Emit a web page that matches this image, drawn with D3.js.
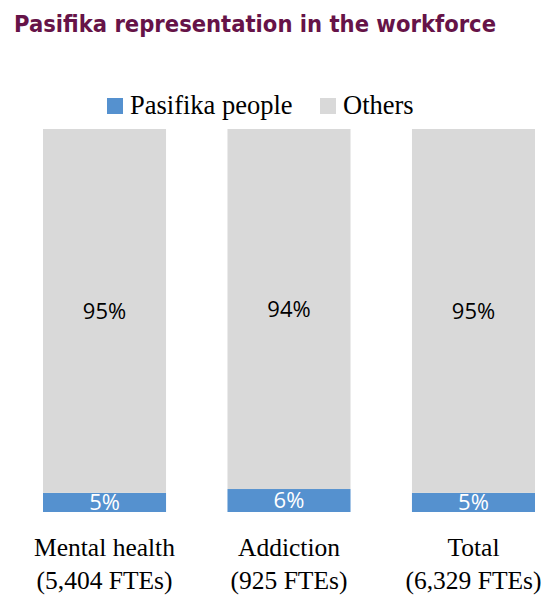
<!DOCTYPE html>
<html>
<head>
<meta charset="utf-8">
<script src="https://cdn.jsdelivr.net/npm/d3@7"></script>
<style>
  html, body { margin: 0; padding: 0; background: #fff; }
  svg { display: block; }
</style>
</head>
<body>
<svg id="chart" width="546" height="599"></svg>
<script>
// Workforce groups and their FTE counts
const categories = ["Mental health", "Addiction", "Total"];
const fteLabels = ["(5,404 FTEs)", "(925 FTEs)", "(6,329 FTEs)"];
// Share of FTEs (%)
const pasifika = [5, 6, 5];
const others = [95, 94, 95];
const seriesNames = ["Pasifika people", "Others"];
const seriesColors = ["#5591CF", "#D9D9D9"];

const svg = d3.select("#chart");

// Title
svg.append("text")
  .attr("x", 14).attr("y", 32)
  .attr("font-family", "'DejaVu Sans', Verdana, sans-serif")
  .attr("font-weight", "bold")
  .attr("font-size", 22.5)
  .attr("textLength", 482)
  .attr("lengthAdjust", "spacingAndGlyphs")
  .attr("fill", "#661348")
  .text("Pasifika representation in the workforce");

const x = d3.scaleBand()
  .domain(categories)
  .range([43, 535])
  .paddingInner(0.333)
  .paddingOuter(0);

const y = d3.scaleLinear()
  .domain([0, 100])
  .range([512, 129]);

const rows = categories.map((c, i) => ({ cat: c, "Pasifika people": pasifika[i], "Others": others[i] }));
const stacked = d3.stack().keys(seriesNames)(rows);

const g = svg.append("g");
stacked.forEach((layer, li) => {
  g.selectAll(null)
    .data(layer)
    .join("rect")
    .attr("x", d => x(d.data.cat))
    .attr("width", x.bandwidth())
    .attr("y", d => y(d[1]))
    .attr("height", d => y(d[0]) - y(d[1]))
    .attr("fill", seriesColors[li]);
});

// Value labels
stacked.forEach((layer, li) => {
  g.selectAll(null)
    .data(layer)
    .join("text")
    .attr("x", d => x(d.data.cat) + x.bandwidth() / 2)
    .attr("y", d => (y(d[0]) + y(d[1])) / 2)
    .attr("dy", "0.36em")
    .attr("text-anchor", "middle")
    .attr("font-family", "'Open Sans', 'Noto Sans', sans-serif")
    .attr("font-size", 22)
    .attr("fill", li === 0 ? "#ffffff" : "#000000")
    .text(d => (d[1] - d[0]) + "%");
});

// Category labels
const catG = svg.append("g")
  .attr("font-family", "'Liberation Serif', 'DejaVu Serif', serif")
  .attr("font-size", 25.5)
  .attr("fill", "#000");
categories.forEach((c, i) => {
  const cx = x(c) + x.bandwidth() / 2;
  catG.append("text").attr("x", cx).attr("y", 556).attr("text-anchor", "middle").text(c);
  catG.append("text").attr("x", cx).attr("y", 589).attr("text-anchor", "middle").text(fteLabels[i]);
});

// Legend
const legend = svg.append("g")
  .attr("font-family", "'Liberation Serif', 'DejaVu Serif', serif")
  .attr("font-size", 26.5);
const legendX = [107, 320];
seriesNames.forEach((n, i) => {
  legend.append("rect")
    .attr("x", legendX[i]).attr("y", 98)
    .attr("width", 16).attr("height", 16)
    .attr("fill", seriesColors[i]);
  legend.append("text")
    .attr("x", legendX[i] + 23).attr("y", 114)
    .attr("fill", "#000")
    .text(n);
});
</script>
</body>
</html>
